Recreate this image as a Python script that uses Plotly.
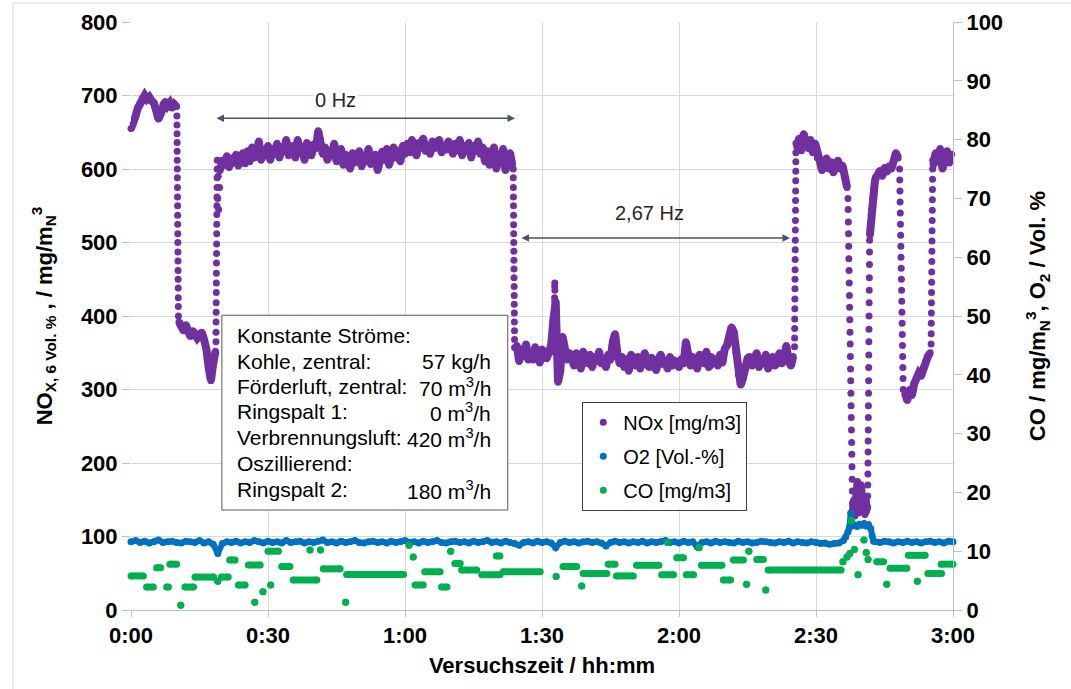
import plotly.graph_objects as go

# ---------------- axis labels ----------------
tick_minutes = [0, 30, 60, 90, 120, 150, 180]
tick_labels = ["0:00", "0:30", "1:00", "1:30", "2:00", "2:30", "3:00"]

# ---------------- NOx [mg/m3]: segments (start minute, step minute, values) ----------------
nox_a_start, nox_a_step = 0.0, 0.5
nox_a = [655, 662, 672, 683, 690, 697, 700, 695, 698, 693, 690, 680, 668, 675, 688, 692, 686, 690, 683, 688, 685]
nox_drop1_start, nox_drop1_step = 10.05, 0.015
nox_drop1 = [672, 660, 648, 636, 624, 612, 600, 588, 575, 562, 550, 537, 525, 512, 500, 487, 475, 462, 450, 438, 425, 413, 400]
nox_b_start, nox_b_step = 10.5, 0.5
nox_b = [392, 386, 380, 388, 378, 372, 380, 376, 370, 374, 378, 368, 355, 330, 312, 335, 352]
nox_rise1_start, nox_rise1_step = 18.6, 0.015
nox_rise1 = [365, 378, 392, 405, 418, 432, 445, 458, 472, 485, 498, 512, 525, 538, 550, 562, 575, 588, 600, 612]
nox_s1_start, nox_s1_step = 19.0, 0.1
nox_s1 = [560, 590, 545, 600, 575]
nox_c_start, nox_c_step = 19.5, 0.5
nox_c = [598, 612, 605, 618, 602, 615, 608, 620, 604, 613, 622, 607,
         625, 610, 630, 615, 622, 638, 612, 626, 618, 632,
         612, 628, 620, 635, 615, 630, 624, 640, 618, 628,
         632, 615, 640, 622, 630, 612, 636, 625, 618, 634,
         628, 652, 640, 620,
         630, 612, 625, 618, 635, 610, 622, 628,
         605, 620, 612, 600, 622, 608, 615, 625, 603, 618, 610, 628, 606, 615, 620, 598, 612, 624,
         612, 628, 605, 622, 630, 615, 625, 610, 632, 620,
         635, 622, 640, 628, 618, 636, 630, 642, 624, 632, 620, 638, 628, 635, 640, 622, 630, 626, 638, 632,
         620, 635, 625, 640, 618, 630, 628, 636, 615, 632, 624, 638, 620, 630,
         610, 625, 605, 620, 630, 600, 618, 612, 628, 598, 615, 622, 605]
nox_drop2_start, nox_drop2_step = 83.7, 0.015
nox_drop2 = [600, 588, 575, 562, 550, 537, 524, 512, 500, 488, 476, 464, 452, 440, 428, 416, 404, 392, 380, 368, 357]
nox_d_start, nox_d_step = 84.5, 0.5
nox_d = [360, 338, 355, 345, 362, 340,
         352, 340, 358, 345, 336, 355, 348, 342, 350,
         360, 395, 420, 310, 325,
         372, 355, 340, 350,
         345, 332, 350, 338, 328, 352, 340, 335, 348, 330, 345, 338, 352, 335, 342, 330, 348, 340,
         365, 376, 350,
         335, 345, 330, 342, 325, 348, 338, 332, 345, 328, 340, 350, 335, 330, 344, 336, 326, 340, 348, 334, 338, 328, 345, 332, 340, 336, 330,
         342, 335, 365, 350, 332, 345, 338, 328, 348, 340, 335, 352, 330, 345, 338, 342, 332, 348, 336, 355,
         360, 372, 385, 378, 350, 320,
         306, 315, 330, 342,
         345, 332, 340, 350, 330, 342, 335, 348, 328, 340, 345, 332, 338, 350, 335, 342, 360, 340, 332, 345]
nox_spike_start, nox_spike_step = 92.7, 0.02
nox_spike = [380, 395, 410, 425, 440, 445, 435, 420, 405, 390, 370, 350]
nox_rise2_start, nox_rise2_step = 145.3, 0.015
nox_rise2 = [358, 370, 383, 396, 410, 423, 437, 450, 463, 477, 490, 503, 517, 530, 544, 557, 570, 584, 597, 610, 622, 635]
nox_e_start, nox_e_step = 145.8, 0.5
nox_e = [630, 642, 625, 648, 636, 628, 640, 622, 635, 615,
         612, 598, 608, 615, 600, 610, 595, 606, 612, 600, 605, 590, 575]
nox_drop3_start, nox_drop3_step = 157.0, 0.04
nox_drop3 = [560, 545, 528, 512, 495, 478, 462, 445, 428, 412, 395, 378, 362, 345, 328, 312, 295, 278, 262, 245, 228, 212, 195, 178, 162, 145]
nox_bot_start, nox_bot_step = 158.1, 0.2
nox_bot = [135, 150, 128, 160, 140, 175, 132, 165, 145, 170, 138, 155, 142, 130, 150, 135]
nox_rise3_start, nox_rise3_step = 161.3, 0.02
nox_rise3 = [140, 155, 170, 185, 200, 215, 230, 245, 262, 278, 295, 312, 330, 347, 365, 382, 400, 418, 435, 452, 470, 487, 503]
nox_curve_start, nox_curve_step = 161.8, 0.1
nox_curve = [510, 520, 528, 538, 545, 552, 560, 565, 570, 575, 580, 583, 586, 589, 590]
nox_f_start, nox_f_step = 163.5, 0.5
nox_f = [592, 598, 590, 602, 596, 604, 600, 610, 622, 615]
nox_drop4_start, nox_drop4_step = 168.3, 0.04
nox_drop4 = [600, 585, 570, 555, 540, 525, 510, 495, 480, 465, 450, 435, 420, 405, 390, 375, 360, 345, 330, 315, 300]
nox_g_start, nox_g_step = 169.5, 0.5
nox_g = [295, 285, 300, 292, 308, 315, 322, 318, 330, 338, 345, 350]
nox_rise4_start, nox_rise4_step = 175.2, 0.02
nox_rise4 = [362, 376, 390, 404, 418, 432, 446, 460, 474, 488, 502, 516, 530, 544, 558, 572, 586, 600, 612]
nox_h_start, nox_h_step = 175.7, 0.5
nox_h = [605, 622, 610, 628, 600, 618, 625, 608, 620]

# steady (plateau) segments are continuous bands; transition segments are separate dots
nox_plateaus = [
    (nox_a_start, nox_a_step, nox_a), (nox_b_start, nox_b_step, nox_b),
    (nox_c_start, nox_c_step, nox_c), (nox_d_start, nox_d_step, nox_d),
    (nox_e_start, nox_e_step, nox_e), (nox_bot_start, nox_bot_step, nox_bot),
    (nox_curve_start, nox_curve_step, nox_curve), (nox_f_start, nox_f_step, nox_f),
    (nox_g_start, nox_g_step, nox_g), (nox_h_start, nox_h_step, nox_h),
]
nox_transitions = [
    (nox_drop1_start, nox_drop1_step, nox_drop1), (nox_rise1_start, nox_rise1_step, nox_rise1),
    (nox_s1_start, nox_s1_step, nox_s1), (nox_drop2_start, nox_drop2_step, nox_drop2),
    (nox_spike_start, nox_spike_step, nox_spike), (nox_rise2_start, nox_rise2_step, nox_rise2),
    (nox_drop3_start, nox_drop3_step, nox_drop3), (nox_rise3_start, nox_rise3_step, nox_rise3),
    (nox_drop4_start, nox_drop4_step, nox_drop4), (nox_rise4_start, nox_rise4_step, nox_rise4),
]

# ---------------- O2 [Vol.-%] ----------------
o2_a_start, o2_a_step = 0.0, 1.0
o2_a = [11.6, 11.8, 11.5, 11.7, 11.4, 11.6, 11.9, 11.5, 11.6, 11.7,
        11.5, 11.4, 11.7, 11.6, 11.5, 11.8, 11.4, 11.6, 11.2, 9.6,
        11.3, 11.6, 11.5, 11.7, 11.4, 11.6, 11.5, 11.8, 11.6, 11.4,
        11.7, 11.5, 11.6, 11.4, 11.8, 11.5, 11.6, 11.7, 11.4, 11.6,
        11.5, 11.7, 11.9, 11.5, 11.6, 11.4, 11.7, 11.5, 11.6, 11.8,
        11.5, 11.4, 11.6, 11.7, 11.5, 11.6, 11.4, 11.7, 11.5, 11.6,
        11.8, 11.5, 11.6, 11.4, 11.7, 11.5, 11.6, 11.8, 11.5, 11.4,
        11.6, 11.7, 11.5, 11.6, 11.4, 11.7, 11.5, 11.6, 11.8, 11.5,
        11.6, 11.4, 11.7, 11.5, 11.3, 11.0, 11.5, 11.6, 11.4, 11.7,
        11.5, 11.6, 11.4, 10.6, 11.5, 11.7, 11.5, 11.6, 11.4, 11.6,
        11.7, 11.5, 11.6, 11.4, 10.9, 11.5, 11.7, 11.5, 11.6, 11.4,
        11.6, 11.5, 11.7, 11.4, 11.6, 11.5, 11.6, 11.8, 11.5, 11.6,
        11.4, 11.7, 11.5, 11.6, 10.7, 11.5, 11.6, 11.4, 11.7, 11.5,
        11.6, 11.5, 11.4, 11.7, 11.5, 11.6, 11.4, 11.5, 11.7, 11.6,
        11.5, 11.4, 11.6, 11.5, 11.7, 11.4, 11.6, 11.5, 11.4, 11.6,
        11.5, 11.3, 11.4, 11.2, 11.3, 11.4]
o2_bump_time = [156, 156.5, 157, 157.3, 157.6, 157.8, 158.3, 159, 159.5, 160, 160.5, 161, 161.5, 162, 162.3, 162.6]
o2_bump = [11.8, 12.4, 13.3, 14.0, 16.5, 14.3, 14.5, 14.2, 14.6, 14.4, 14.7, 14.3, 14.5, 13.8, 12.6, 11.7]
o2_b_start, o2_b_step = 163.0, 1.0
o2_b = [11.6, 11.5, 11.7, 11.6, 11.4, 11.6, 11.5, 11.7, 11.5, 11.6, 11.4, 11.6, 11.7, 11.5, 11.6, 11.4, 11.7, 11.6]

# ---------------- CO [mg/m3]: constant readings, first minute, last minute, value ----------------
co_first = [0.0, 3.4, 5.6, 8.5, 7.8, 10.9, 11.8, 14.0, 19.0, 19.8, 21.6, 23.5, 25.7, 27.1, 28.9, 30.6, 30.0, 33.0, 35.5,
            39.2, 41.5, 42.1, 47.0, 47.2, 60.9, 61.8, 62.2, 64.3, 68.0, 70.0, 70.9, 72.4, 76.8, 80.0, 81.5,
            93.1, 94.6, 98.7, 99.0, 104.5, 106.3, 110.7, 116.2, 117.5, 119.5, 121.6, 124.4, 124.9, 129.7, 131.9,
            134.8, 135.3, 137.0, 139.0, 139.5, 155.9, 156.8, 157.4, 157.7, 158.4, 159.2, 160.5, 161.0, 161.4,
            163.3, 165.5, 166.2, 170.2, 172.2, 174.5, 177.4]
co_last = [2.7, 4.9, 6.5, 10.0, 8.2, 10.9, 13.7, 18.1, 19.0, 21.3, 22.8, 25.0, 28.3, 27.1, 28.9, 30.6, 32.3, 34.8, 40.7,
           39.2, 41.5, 45.8, 47.0, 59.7, 60.9, 61.8, 64.0, 67.7, 69.2, 70.0, 72.1, 75.7, 80.8, 80.8, 89.6,
           93.1, 97.6, 98.7, 104.2, 106.0, 110.0, 115.6, 118.8, 117.5, 121.0, 123.2, 124.4, 129.4, 131.3, 134.1,
           134.8, 135.3, 138.5, 139.0, 155.5, 155.9, 156.8, 157.4, 157.7, 158.4, 159.2, 160.5, 161.0, 161.4,
           164.8, 165.5, 169.9, 173.9, 172.2, 177.5, 180.0]
co_value = [5.8, 3.9, 7.2, 7.8, 3.9, 0.8, 3.9, 5.6, 4.9, 5.6, 8.5, 4.25, 7.65, 1.3, 3.1, 4.25, 10.0, 7.4, 5.1,
            10.2, 10.2, 7.0, 1.3, 6.05, 11.0, 9.0, 4.25, 6.5, 3.9, 10.0, 7.9, 6.8, 6.0, 9.2, 6.5,
            5.7, 7.4, 4.1, 6.2, 7.8, 5.8, 7.6, 6.0, 11.5, 8.9, 6.0, 10.6, 7.6, 5.1, 8.5,
            4.4, 10.0, 8.6, 3.4, 6.8, 8.2, 9.0, 9.6, 15.2, 10.3, 6.0, 11.9, 9.8, 8.6,
            8.2, 4.4, 7.1, 9.3, 4.9, 6.2, 7.8]

# ---------------- text ----------------
box_labels = ["Konstante Ströme:", "Kohle, zentral:", "Förderluft, zentral:", "Ringspalt 1:",
              "Verbrennungsluft:", "Oszillierend:", "Ringspalt 2:"]
box_values = ["", "57 kg/h", "70 m<sup>3</sup>/h", "0 m<sup>3</sup>/h", "420 m<sup>3</sup>/h", "",
              "180 m<sup>3</sup>/h"]

PURPLE, BLUE, GREEN = "#7030A0", "#0070C0", "#00B050"
FONT = "Liberation Sans, Arial, sans-serif"


def expand(segments, breaks=False):
    xs, ys = [], []
    for start, step, vals in segments:
        for i, v in enumerate(vals):
            xs.append(round(start + i * step, 4))
            ys.append(v)
        if breaks:
            xs.append(None)
            ys.append(None)
    return xs, ys


nox_px, nox_py = expand(nox_plateaus, breaks=True)
nox_tx, nox_ty = expand(nox_transitions)
nox_x = [v for v in nox_px if v is not None] + nox_tx
nox_y = [v for v in nox_py if v is not None] + nox_ty

o2_x_a, o2_y_a = expand([(o2_a_start, o2_a_step, o2_a)])
o2_x_b, o2_y_b = expand([(o2_b_start, o2_b_step, o2_b)])
o2_x = o2_x_a + o2_bump_time + o2_x_b
o2_y = o2_y_a + o2_bump + o2_y_b

co_lx, co_ly, co_mx, co_my = [], [], [], []
for f, l, v in zip(co_first, co_last, co_value):
    co_lx += [f, l, None]
    co_ly += [v, v, None]
    co_mx += [f, l]
    co_my += [v, v]

fig = go.Figure()
# band fill for the steady NOx periods (connecting the scattered readings)
fig.add_trace(go.Scatter(x=nox_px, y=nox_py, mode="lines", showlegend=False, hoverinfo="skip",
                         line=dict(color=PURPLE, width=8), cliponaxis=False))
fig.add_trace(go.Scatter(x=nox_x, y=nox_y, mode="markers", name="NOx [mg/m3]", legendgroup="a",
                         marker=dict(color=PURPLE, size=7, line=dict(width=0)), cliponaxis=False))
fig.add_trace(go.Scatter(x=o2_x, y=o2_y, mode="lines", yaxis="y2", showlegend=False, hoverinfo="skip",
                         line=dict(color=BLUE, width=6), cliponaxis=False))
fig.add_trace(go.Scatter(x=o2_x, y=o2_y, mode="markers", name="O2 [Vol.-%]", yaxis="y2", legendgroup="b",
                         marker=dict(color=BLUE, size=7, line=dict(width=0)), cliponaxis=False))
fig.add_trace(go.Scatter(x=co_lx, y=co_ly, mode="lines", yaxis="y2", showlegend=False,
                         line=dict(color=GREEN, width=7), hoverinfo="skip", cliponaxis=False))
fig.add_trace(go.Scatter(x=co_mx, y=co_my, mode="markers", name="CO [mg/m3]", yaxis="y2", legendgroup="c",
                         marker=dict(color=GREEN, size=7, line=dict(width=0)), cliponaxis=False))

tickfont = dict(family=FONT, size=22, color="#000000", weight="bold")
titlefont = dict(family=FONT, size=22, color="#000000", weight="bold")

fig.update_layout(
    width=1071, height=689,
    margin=dict(l=131, r=118, t=22, b=79),
    paper_bgcolor="white", plot_bgcolor="white",
    font=dict(family=FONT, color="#000000"),
    xaxis=dict(range=[0, 180], tickvals=tick_minutes, ticktext=tick_labels, tickfont=tickfont,
               showgrid=True, gridcolor="#D9D9D9", gridwidth=1, zeroline=False, automargin=False,
               showline=True, linecolor="#BFBFBF", ticks="outside", ticklen=6, tickcolor="#BFBFBF",
               title=dict(text="Versuchszeit / hh:mm", font=titlefont, standoff=10)),
    yaxis=dict(range=[0, 800], dtick=100, tickfont=tickfont, showgrid=True, gridcolor="#D9D9D9",
               zeroline=False, showline=False, ticks="outside", ticklen=8, tickcolor="#BFBFBF",
               automargin=False,
               title=dict(text="NO<sub>X, 6 Vol. %</sub> , / mg/m<sub>N</sub><sup>3</sup>", font=titlefont, standoff=22)),
    yaxis2=dict(range=[0, 100], dtick=10, overlaying="y", side="right", tickfont=tickfont,
                showgrid=False, zeroline=False, showline=True, linecolor="#BFBFBF",
                ticks="outside", ticklen=8, tickcolor="#BFBFBF", automargin=False,
                title=dict(text="CO / mg/m<sub>N</sub><sup>3</sup>, O<sub>2</sub> / Vol. %", font=titlefont, standoff=27)),
    legend=dict(x=0.549, y=0.354, xanchor="left", yanchor="top", bgcolor="white",
                bordercolor="#404040", borderwidth=1, font=dict(family=FONT, size=20, color="#000000"),
                traceorder="grouped", tracegroupgap=5),
    showlegend=True,
)

# text box
fig.add_shape(type="rect", xref="x", yref="y", x0=19.9, x1=82.5, y0=136, y1=401,
              fillcolor="white", line=dict(color="#595959", width=1), layer="above")
line_values = [374, 338, 303.5, 269.5, 234.5, 200, 163.5]
for lab, val, yv in zip(box_labels, box_values, line_values):
    fig.add_annotation(x=22.8, y=yv, xref="x", yref="y", xanchor="left", yanchor="middle", align="left",
                       text=lab, showarrow=False, font=dict(family=FONT, size=21, color="#000000"))
    if val:
        fig.add_annotation(x=79.3, y=yv, xref="x", yref="y", xanchor="right", yanchor="middle",
                           align="right", text=val, showarrow=False,
                           font=dict(family=FONT, size=21, color="#000000"))

# frequency arrows
fig.add_annotation(x=84.1, y=669, ax=18.4, ay=669, xref="x", yref="y", axref="x", ayref="y",
                   text="", showarrow=True, arrowhead=2, arrowside="end+start", arrowsize=1,
                   arrowwidth=1.5, arrowcolor="#44546A")
fig.add_annotation(x=144.3, y=506, ax=85.2, ay=506, xref="x", yref="y", axref="x", ayref="y",
                   text="", showarrow=True, arrowhead=2, arrowside="end+start", arrowsize=1,
                   arrowwidth=1.5, arrowcolor="#44546A")
fig.add_annotation(x=44.7, y=694, xref="x", yref="y", text="0 Hz", showarrow=False, bgcolor="white",
                   font=dict(family=FONT, size=20, color="#262626"))
fig.add_annotation(x=113.6, y=540, xref="x", yref="y", text="2,67 Hz", showarrow=False,
                   font=dict(family=FONT, size=20, color="#262626"))

# outer chart frame
fig.add_shape(type="rect", xref="paper", yref="paper", x0=-0.1436, x1=1.3, y0=-0.3, y1=1.0323,
              line=dict(color="#D9D9D9", width=1), fillcolor="rgba(0,0,0,0)", layer="below")

fig.write_html("out.html", config={"displayModeBar": False},
               post_script="document.body.style.margin='0px';")
